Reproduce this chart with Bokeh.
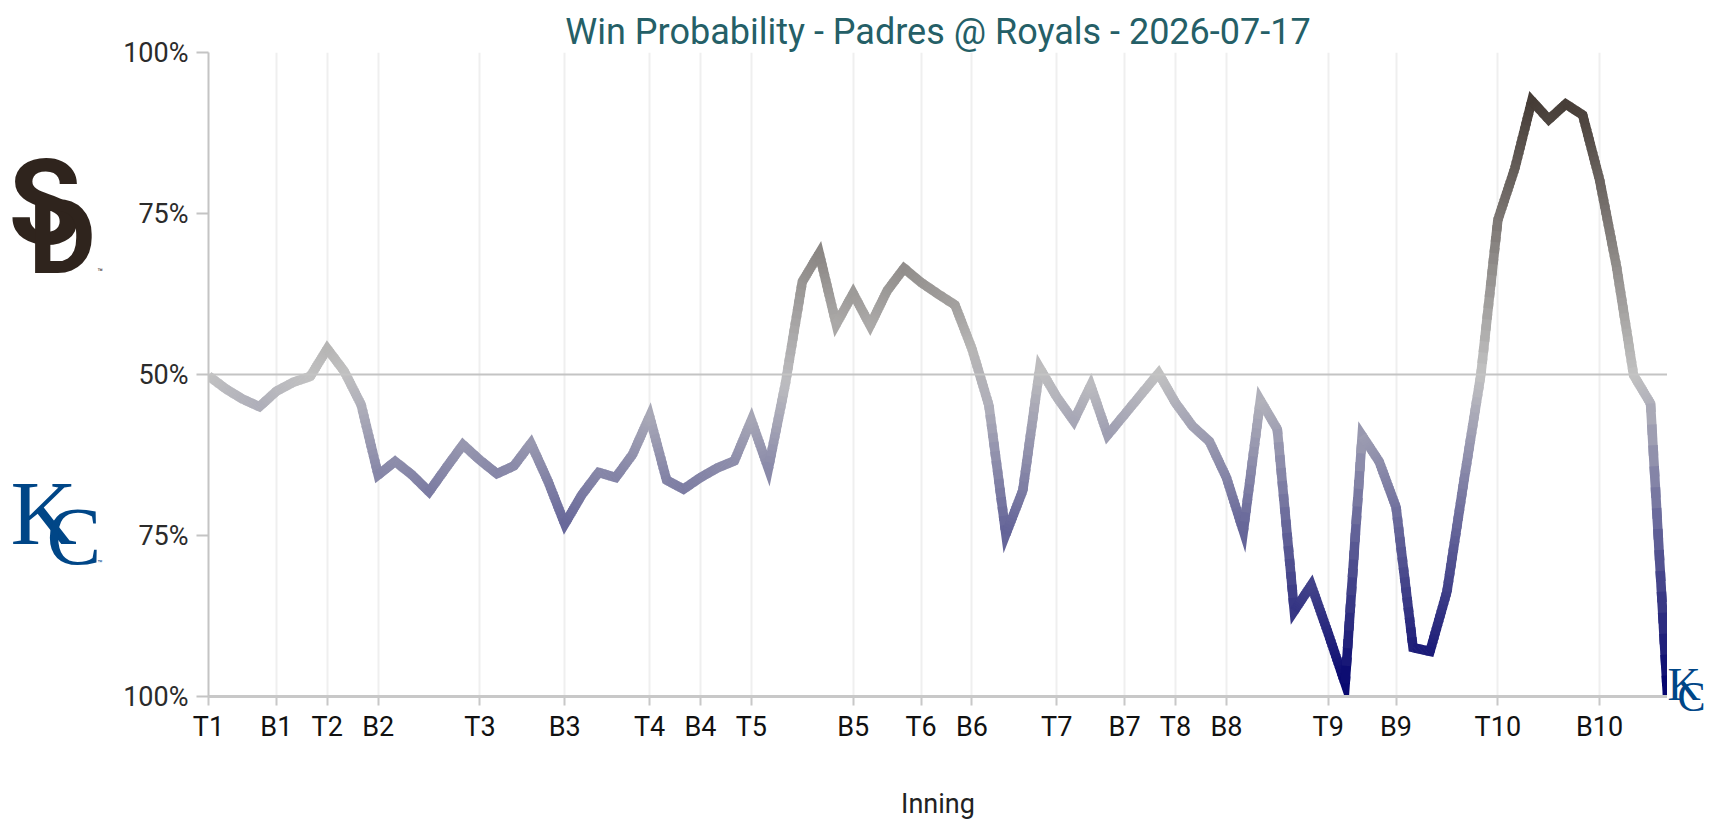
from bokeh.plotting import figure
from bokeh.layouts import row
from bokeh.models import Range1d, FixedTicker, Span, ColumnDataSource
from bokeh.embed import file_html
from bokeh.resources import INLINE
from bokeh.core.properties import value

# ---------------- data ----------------
chart_title = "Win Probability - Padres @ Royals - 2026-07-17"
x_title = "Inning"

# Padres win probability (%) after each play
padres_wp = [
    49.8, 47.8, 46.2, 45.0, 47.4, 48.8, 49.7, 54.0, 50.5, 45.3,
    34.4, 36.5, 34.4, 31.8, 35.5, 39.1, 36.7, 34.6, 35.8, 39.3,
    33.5, 26.8, 31.3, 34.8, 34.0, 37.6, 43.5, 33.6, 32.2, 34.0,
    35.5, 36.6, 42.9, 35.4, 48.5, 64.4, 68.8, 57.8, 62.6, 57.6,
    63.0, 66.5, 64.3, 62.5, 60.8, 54.0, 45.2, 25.2, 32.0, 51.0,
    46.5, 42.8, 48.3, 40.6, 43.8, 47.0, 50.2, 45.6, 42.0, 39.6,
    34.0, 25.7, 46.0, 41.5, 13.3, 17.3, 9.8, 2.0, 40.5, 36.5,
    29.4, 7.6, 7.0, 16.3, 33.5, 50.0, 74.0, 82.0, 92.5, 89.6,
    92.0, 90.3, 80.2, 66.7, 49.9, 45.5, 0.0,
]

inning_ticks = [0, 4, 7, 10, 16, 21, 26, 29, 32, 38, 42, 45, 50, 54, 57, 60, 66, 70, 76, 82]
inning_labels = ["T1", "B1", "T2", "B2", "T3", "B3", "T4", "B4", "T5", "B5",
                 "T6", "B6", "T7", "B7", "T8", "B8", "T9", "B9", "T10", "B10"]

y_ticks = [0, 25, 50, 75, 100]
y_labels = ["100%", "75%", "50%", "75%", "100%"]

# ---------------- styling helpers ----------------
KC_RGB = (0, 0, 108)
MID_RGB = (194, 194, 194)
SD_RGB = (47, 36, 29)
FONT = "Roboto"
SD_COL = "#2F241D"
KC_COL = "#004687"
H = 814
TOP, FRAME_H, BOTTOM = 52, 644, 118   # vertical layout of the main plot in px


def mix(a, b, t):
    return tuple(a[k] + (b[k] - a[k]) * t for k in range(3))


def wp_rgb(v):
    t = v / 100.0
    if t < 0.5:
        return mix(KC_RGB, MID_RGB, t / 0.5)
    return mix(MID_RGB, SD_RGB, (t - 0.5) / 0.5)


def hexcol(c):
    return "#%02x%02x%02x" % tuple(int(round(max(0, min(255, x)))) for x in c)


# build gradient pieces of the line
K = 14
n = len(padres_wp)
xs_list, ys_list, cols = [], [], []
for i in range(n - 1):
    x0, x1 = float(i), float(i + 1)
    y0, y1 = padres_wp[i], padres_wp[i + 1]
    c0, c1 = wp_rgb(y0), wp_rgb(y1)
    for j in range(K):
        t0 = j / K
        t1 = min((j + 1.5) / K, 1.0)
        xs = [x0 + (x1 - x0) * t0, x0 + (x1 - x0) * t1]
        ys = [y0 + (y1 - y0) * t0, y0 + (y1 - y0) * t1]
        if j == K - 1 and i + 2 < n:
            xs.append(x1 + 0.03)
            ys.append(y1 + 0.03 * (padres_wp[i + 2] - y1))
        xs_list.append(xs)
        ys_list.append(ys)
        cols.append(hexcol(mix(c0, c1, (j + 0.5) / K)))

src = ColumnDataSource(dict(xs=xs_list, ys=ys_list, color=cols))

# ---------------- main figure ----------------
p = figure(
    frame_width=1459, frame_height=FRAME_H,
    x_range=Range1d(0, n - 1), y_range=Range1d(0, 100),
    output_backend="svg", toolbar_location=None,
    min_border_left=98, min_border_right=0,
    min_border_top=TOP, min_border_bottom=BOTTOM,
)
p.background_fill_color = "white"
p.border_fill_color = "white"
p.outline_line_color = None

p.title.text = chart_title
p.title.align = "center"
p.title.text_font = FONT
p.title.text_font_size = "36px"
p.title.text_font_style = "normal"
p.title.text_color = "#255f67"
p.title.standoff = 0

# grid
p.ygrid.grid_line_color = None
p.xgrid.ticker = FixedTicker(ticks=inning_ticks)
p.xgrid.grid_line_color = "#efefef"
p.xgrid.grid_line_width = 2

p.add_layout(Span(location=50, dimension="width", line_color="#c4c4c4", line_width=2))

# axes
p.xaxis.ticker = FixedTicker(ticks=inning_ticks)
p.xaxis.major_label_overrides = {t: l for t, l in zip(inning_ticks, inning_labels)}
p.xaxis.axis_label = x_title
p.xaxis.axis_label_text_font = FONT
p.xaxis.axis_label_text_font_size = "27px"
p.xaxis.axis_label_text_font_style = "normal"
p.xaxis.axis_label_text_color = "#222222"
p.xaxis.axis_label_standoff = 42
p.xaxis.axis_line_color = "#c8c8c8"
p.xaxis.axis_line_width = 3
p.xaxis.major_tick_line_color = "#c8c8c8"
p.xaxis.major_tick_line_width = 2
p.xaxis.major_tick_out = 9
p.xaxis.major_tick_in = 0
p.xaxis.minor_tick_line_color = None
p.xaxis.major_label_text_font = FONT
p.xaxis.major_label_text_font_size = "27px"
p.xaxis.major_label_text_color = "#111111"
p.xaxis.major_label_standoff = 5

p.yaxis.ticker = FixedTicker(ticks=y_ticks)
p.yaxis.major_label_overrides = {t: l for t, l in zip(y_ticks, y_labels)}
p.yaxis.axis_line_color = "#c4c4c4"
p.yaxis.axis_line_width = 2
p.yaxis.major_tick_line_color = "#c4c4c4"
p.yaxis.major_tick_line_width = 2
p.yaxis.major_tick_out = 12
p.yaxis.major_tick_in = 0
p.yaxis.minor_tick_line_color = None
p.yaxis.major_label_text_font = FONT
p.yaxis.major_label_text_font_size = "27px"
p.yaxis.major_label_text_color = "#2b2b2b"
p.yaxis.major_label_standoff = 8

# win probability line
p.multi_line(xs="xs", ys="ys", line_color="color", line_width=9.5,
             line_join="miter", line_cap="butt", source=src)


# ---------------- side panels holding the team marks ----------------
# frame spans page y TOP..H, coordinates are page pixels (y down)
def side_panel(w):
    f = figure(title=None, frame_width=w, frame_height=H - TOP,
               x_range=Range1d(0, w), y_range=Range1d(H, TOP),
               output_backend="svg", toolbar_location=None,
               x_axis_type=None, y_axis_type=None,
               min_border_left=0, min_border_right=0,
               min_border_top=TOP, min_border_bottom=0)
    f.outline_line_color = None
    f.background_fill_color = "white"
    f.border_fill_color = "white"
    f.grid.visible = False
    return f


def mark(f, text, x, baseline, size_px, color, font, style="normal"):
    # text is placed so that its alphabetic baseline lands on `baseline`
    f.text(x=[x], y=[baseline - 0.35 * size_px], text=[text], text_font=value(font),
           text_font_size="%dpx" % size_px, text_font_style=style, text_color=color,
           text_align="left", text_baseline="alphabetic")


left = side_panel(110)
mark(left, "S", 8, 245, 118, SD_COL, "Roboto", "bold")
mark(left, "D", 28, 273, 104, SD_COL, "Roboto", "bold")
mark(left, "\u2122", 97, 275, 9, SD_COL, "Roboto")
mark(left, "K", 10, 545, 92, KC_COL, "Liberation Serif")
mark(left, "C", 46, 565, 82, KC_COL, "Liberation Serif")
mark(left, "\u2122", 97, 566, 8, KC_COL, "Roboto")

right = side_panel(39)
mark(right, "K", 0, 700, 46, KC_COL, "Liberation Serif")
mark(right, "C", 10, 711, 42, KC_COL, "Liberation Serif")

layout = row(left, p, right)
open("out.html", "w").write(file_html(layout, INLINE))
